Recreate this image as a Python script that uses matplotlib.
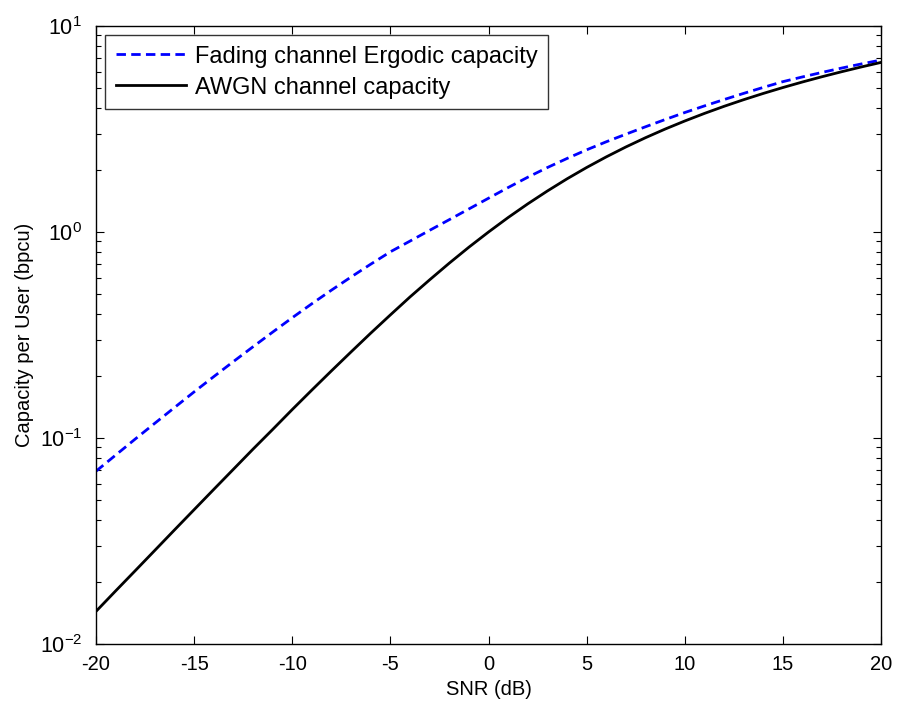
import matplotlib
matplotlib.use('Agg')
import matplotlib.pyplot as plt
import numpy as np
from matplotlib.ticker import LogLocator, NullFormatter

plt.rcParams['font.family'] = ['Liberation Sans', 'DejaVu Sans']
plt.rcParams['mathtext.fontset'] = 'custom'
plt.rcParams['mathtext.rm'] = 'Liberation Sans'
plt.rcParams['axes.unicode_minus'] = False

# SNR grid (dB)
snr_db = list(range(-20, 21))

# values
fading = [0.0690, 0.0826, 0.0989, 0.1180, 0.1406, 0.1675, 0.1986, 0.2350, 0.2773, 0.3266,
          0.3837, 0.4487, 0.5224, 0.6053, 0.6982, 0.8017, 0.9036, 1.019, 1.148, 1.294,
          1.459, 1.644, 1.845, 2.056, 2.275, 2.506, 2.742, 2.985, 3.243, 3.516,
          3.802, 4.093, 4.395, 4.710, 5.035, 5.370, 5.662, 5.957, 6.252, 6.546, 6.839]
awgn = [0.0144, 0.0181, 0.0227, 0.0285, 0.0358, 0.0449, 0.0563, 0.0705, 0.0883, 0.110,
        0.1375, 0.171, 0.212, 0.262, 0.323, 0.396, 0.484, 0.586, 0.706, 0.844,
        1.00, 1.176, 1.370, 1.582, 1.812, 2.057, 2.316, 2.588, 2.870, 3.161,
        3.459, 3.764, 4.075, 4.389, 4.707, 5.028, 5.351, 5.676, 6.002, 6.330, 6.658]

fig = plt.figure(figsize=(8.99, 7.15), dpi=100)
ax = fig.add_axes([0.1068, 0.0993, 0.8732, 0.8643])

ax.semilogy(snr_db, fading, color='#0000ff', linestyle='--', dashes=(3.4, 1.9),
            linewidth=2.0, label='Fading channel Ergodic capacity')
ax.semilogy(snr_db, awgn, color='k', linestyle='-', linewidth=2.0,
            label='AWGN channel capacity')

ax.set_xlim(-20, 20)
ax.set_ylim(1e-2, 1e1)
ax.set_xticks(np.arange(-20, 21, 5))
ax.yaxis.set_minor_locator(LogLocator(base=10, subs=np.arange(2, 10)))
ax.yaxis.set_minor_formatter(NullFormatter())

ax.tick_params(which='both', direction='in', top=True, right=True, labelsize=14.5)
ax.tick_params(axis='y', labelsize=15.5)
ax.tick_params(which='major', length=6, width=0.8)
ax.tick_params(which='minor', length=3.5, width=0.8)
ax.tick_params(axis='x', pad=8)
ax.tick_params(axis='y', pad=10)
for s in ax.spines.values():
    s.set_linewidth(1.0)

ax.set_xlabel('SNR (dB)', fontsize=14.5, labelpad=4)
ax.set_ylabel('Capacity per User (bpcu)', fontsize=14.5, labelpad=4)

leg = ax.legend(loc='upper left', fontsize=17, frameon=True, fancybox=False,
                handlelength=3.0, handletextpad=0.35, borderpad=0.45,
                labelspacing=0.38, borderaxespad=0.38)
leg.get_frame().set_edgecolor('k')
leg.get_frame().set_linewidth(1.0)

plt.savefig('out.png', dpi=100)
